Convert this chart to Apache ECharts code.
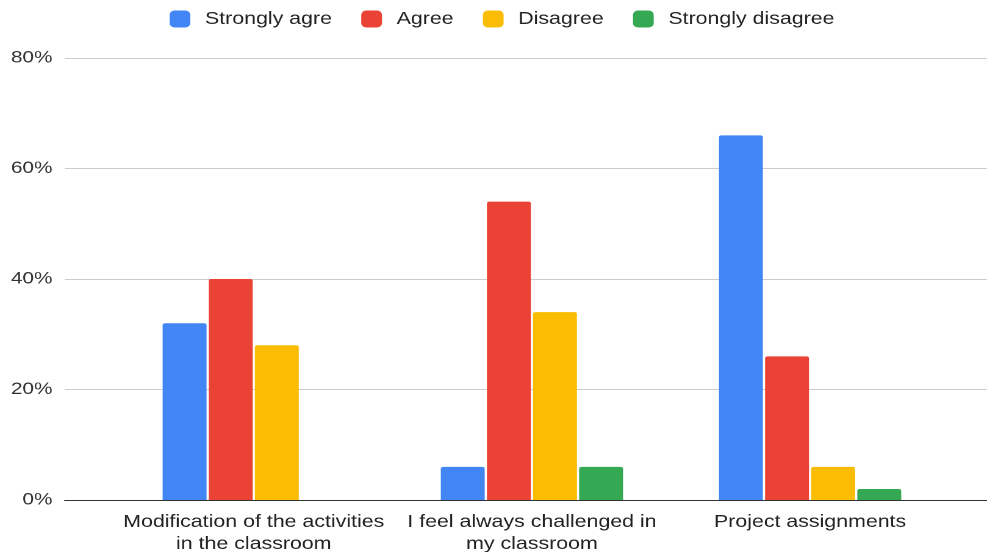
<!DOCTYPE html>
<html>
<head>
<meta charset="utf-8">
<script src="https://cdn.jsdelivr.net/npm/echarts@6/dist/echarts.min.js"></script>
<style>
  html, body { margin: 0; padding: 0; background: #fff; overflow: hidden; }
  /* the chart is laid out at 809px and widened to 987px, giving the broad lettering */
  #chart { width: 809px; height: 552px; transform: scaleX(1.22); transform-origin: 0 0; }
</style>
</head>
<body>
<div id="chart"></div>
<script>
// Survey responses per statement, in percent
const categories = [
  'Modification of the activities\nin the classroom',
  'I feel always challenged in\nmy classroom',
  'Project assignments'
];
const seriesNames = ['Strongly agre', 'Agree', 'Disagree', 'Strongly disagree'];
const stronglyAgree = [32, 6, 66];
const agree = [40, 54, 26];
const disagree = [28, 34, 6];
const stronglyDisagree = [0, 6, 2];
const yTicks = [0, 20, 40, 60, 80];

const colors = ['#4285F4', '#EA4335', '#FBBC04', '#34A853'];
const values = [stronglyAgree, agree, disagree, stronglyDisagree];
const font = 'Arial, "Liberation Sans", sans-serif';

const chart = echarts.init(document.getElementById('chart'), null, { devicePixelRatio: 2 });
chart.setOption({
  animation: false,
  color: colors,
  textStyle: { fontFamily: font },
  legend: {
    top: 5,
    left: 134,
    itemWidth: 17,
    itemHeight: 17,
    itemGap: 24,
    icon: 'roundRect',
    textStyle: { fontSize: 17.5, color: '#222', fontFamily: font, padding: [0, 0, 0, 7] },
    data: seriesNames
  },
  grid: [
    // background grid: gridlines, value labels and baseline across the full width
    { left: 53, right: 0, top: 58, bottom: 52, containLabel: false, outerBoundsMode: 'none' },
    // bar grid
    { left: 94, right: 31, top: 58, bottom: 52, containLabel: false, outerBoundsMode: 'none' }
  ],
  xAxis: [
    {
      gridIndex: 0, type: 'category', data: [''],
      axisLine: { show: true, lineStyle: { color: '#333', width: 1 } },
      axisTick: { show: false }, axisLabel: { show: false }
    },
    {
      gridIndex: 1, type: 'category', data: categories,
      axisLine: { show: false }, axisTick: { show: false },
      axisLabel: {
        interval: 0, hideOverlap: false,
        fontSize: 17.5, color: '#222', lineHeight: 22, margin: 11, fontFamily: font
      }
    }
  ],
  yAxis: [
    {
      gridIndex: 0, type: 'value', min: yTicks[0], max: yTicks[yTicks.length - 1], interval: 20,
      axisLine: { show: false }, axisTick: { show: false },
      axisLabel: { formatter: '{value}%', fontSize: 17, color: '#333', margin: 10, fontFamily: font },
      splitLine: { lineStyle: { color: '#ccc', width: 1 } }
    },
    {
      gridIndex: 1, type: 'value', min: yTicks[0], max: yTicks[yTicks.length - 1], interval: 20,
      show: false, splitLine: { show: false }
    }
  ],
  series: seriesNames.map((name, i) => ({
    name,
    type: 'bar',
    xAxisIndex: 1,
    yAxisIndex: 1,
    barWidth: 36,
    barGap: '5%',
    itemStyle: { color: colors[i], borderRadius: [2, 2, 0, 0] },
    data: values[i]
  }))
});
</script>
</body>
</html>
